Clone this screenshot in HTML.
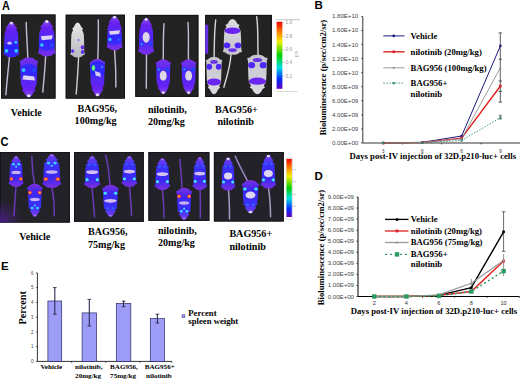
<!DOCTYPE html><html><head><meta charset="utf-8"><style>
html,body{margin:0;padding:0;background:#fff;width:520px;height:380px;overflow:hidden}
svg{display:block}
text{font-family:"Liberation Serif",serif;font-weight:bold;fill:#000}
.s{font-family:"Liberation Sans",sans-serif;font-weight:normal}
.L{font-family:"Liberation Sans",sans-serif;font-weight:bold;font-size:11.5px}
</style></head><body>
<svg width="520" height="380" viewBox="0 0 520 380">
<defs>
<linearGradient id="gA" x1="0" y1="0" x2="0" y2="1"><stop offset="0" stop-color="#8a50f0"/><stop offset="0.2" stop-color="#6a22f2"/><stop offset="0.6" stop-color="#4a28f6"/><stop offset="1" stop-color="#7a30e8"/></linearGradient>
<linearGradient id="gW" x1="0" y1="0" x2="0" y2="1"><stop offset="0" stop-color="#e8e8e8"/><stop offset="1" stop-color="#b8b8c0"/></linearGradient>
<linearGradient id="gAW" x1="0" y1="0" x2="0" y2="1"><stop offset="0" stop-color="#dcdae0"/><stop offset="1" stop-color="#c4c2cc"/></linearGradient>
<linearGradient id="gC" x1="0" y1="0" x2="0" y2="1"><stop offset="0" stop-color="#7a40f0"/><stop offset="0.3" stop-color="#3a30f8"/><stop offset="0.7" stop-color="#3a28f0"/><stop offset="1" stop-color="#7a30e0"/></linearGradient>
<linearGradient id="cbar" x1="0" y1="0" x2="0" y2="1"><stop offset="0" stop-color="#f00000"/><stop offset="0.15" stop-color="#ff8000"/><stop offset="0.3" stop-color="#f0f000"/><stop offset="0.5" stop-color="#00d000"/><stop offset="0.68" stop-color="#00e0e0"/><stop offset="0.85" stop-color="#0030ff"/><stop offset="1" stop-color="#6000c0"/></linearGradient>
<filter id="soft" x="-10%" y="-10%" width="120%" height="120%"><feGaussianBlur stdDeviation="0.4"/></filter>
<radialGradient id="glowC" cx="0" cy="222" r="22" gradientUnits="userSpaceOnUse"><stop offset="0" stop-color="#4a1c8a" stop-opacity="0.9"/><stop offset="1" stop-color="#4a1c8a" stop-opacity="0"/></radialGradient>
</defs>
<text class="L" transform="translate(1.9,9.5) scale(0.9,1)" style="font-size:12.1px">A</text>
<text class="L" x="314.5" y="9">B</text>
<text class="L" transform="translate(0.5,145.7) scale(0.88,1)" style="font-size:12.6px">C</text>
<text class="L" x="314.5" y="179.8">D</text>
<text class="L" x="1" y="270.3">E</text>
<rect x="1" y="14.5" width="54.5" height="84.1" fill="#232323"/>
<rect x="1.5" y="15.0" width="53.5" height="83.1" fill="none" stroke="#141414" stroke-width="1"/>
<rect x="65.7" y="14.7" width="59.3" height="83.9" fill="#232323"/>
<rect x="66.2" y="15.2" width="58.3" height="82.9" fill="none" stroke="#141414" stroke-width="1"/>
<rect x="135.3" y="14.9" width="63.1" height="82.0" fill="#232323"/>
<rect x="135.8" y="15.4" width="62.1" height="81.0" fill="none" stroke="#141414" stroke-width="1"/>
<rect x="205.2" y="14.9" width="66.7" height="82.1" fill="#232323"/>
<rect x="205.7" y="15.4" width="65.7" height="81.1" fill="none" stroke="#141414" stroke-width="1"/>
<g filter="url(#soft)">
<path d="M9.4,57.3 C8.2,70 6.8,82 5.9,94.7" stroke="#c8bcd8" stroke-width="1.4" fill="none" stroke-linecap="round"/>
<g transform="translate(4.20,21.50) scale(0.8938,0.9447)"><clipPath id="m1"><path d="M8,0 C10,0 11.5,2.5 12.5,5 L14.5,6.5 L13.5,8.5 C14.5,10 15,11 15.5,13 C16,20 16,27 16,31 L16.8,35 L14.5,35.5 C13,37.5 10.5,38 8,38 C5.5,38 3,37.5 1.5,35.5 L-0.8,35 L0,31 C0,27 0,20 0.5,13 C1,11 1.5,10 2.5,8.5 L1.5,6.5 L3.5,5 C4.5,2.5 6,0 8,0 Z"/></clipPath><path d="M8,0 C10,0 11.5,2.5 12.5,5 L14.5,6.5 L13.5,8.5 C14.5,10 15,11 15.5,13 C16,20 16,27 16,31 L16.8,35 L14.5,35.5 C13,37.5 10.5,38 8,38 C5.5,38 3,37.5 1.5,35.5 L-0.8,35 L0,31 C0,27 0,20 0.5,13 C1,11 1.5,10 2.5,8.5 L1.5,6.5 L3.5,5 C4.5,2.5 6,0 8,0 Z" fill="url(#gA)"/><g clip-path="url(#m1)"><ellipse cx="8" cy="30" rx="9" ry="8" fill="#2020ff" opacity="0.8"/><ellipse cx="6" cy="23" rx="2.5" ry="1.5" fill="#f0e0f0" opacity="0.85"/><circle cx="2.5" cy="31" r="2" fill="#30d0ff"/><circle cx="13.5" cy="31" r="2" fill="#30d0ff"/><circle cx="13" cy="22" r="1.6" fill="#30c0ff"/><circle cx="8" cy="1.5" r="1.6" fill="#e8e0f0"/></g></g>
<path d="M26.2,22.4 C26.5,35 27.5,48 27.8,58" stroke="#c8bcd8" stroke-width="1.4" fill="none" stroke-linecap="round"/>
<g transform="translate(20.40,97.40) scale(1.0500,-1.0500)"><clipPath id="m2"><path d="M8,0 C10,0 11.5,2.5 12.5,5 L14.5,6.5 L13.5,8.5 C14.5,10 15,11 15.5,13 C16,20 16,27 16,31 L16.8,35 L14.5,35.5 C13,37.5 10.5,38 8,38 C5.5,38 3,37.5 1.5,35.5 L-0.8,35 L0,31 C0,27 0,20 0.5,13 C1,11 1.5,10 2.5,8.5 L1.5,6.5 L3.5,5 C4.5,2.5 6,0 8,0 Z"/></clipPath><path d="M8,0 C10,0 11.5,2.5 12.5,5 L14.5,6.5 L13.5,8.5 C14.5,10 15,11 15.5,13 C16,20 16,27 16,31 L16.8,35 L14.5,35.5 C13,37.5 10.5,38 8,38 C5.5,38 3,37.5 1.5,35.5 L-0.8,35 L0,31 C0,27 0,20 0.5,13 C1,11 1.5,10 2.5,8.5 L1.5,6.5 L3.5,5 C4.5,2.5 6,0 8,0 Z" fill="url(#gA)"/><g clip-path="url(#m2)"><ellipse cx="8" cy="25" rx="9" ry="7" fill="#2828ff" opacity="0.7"/><path d="M2,17 L14,16 L13,20 L3,21 Z" fill="#f0e8f4" opacity="0.9"/><circle cx="3" cy="26" r="1.8" fill="#30c8ff"/><circle cx="13" cy="26" r="1.8" fill="#2850ff"/><circle cx="8" cy="1.5" r="1.6" fill="#e8e0f0"/></g></g>
<path d="M45.6,56.2 C45,70 43.6,82 42.8,92.1" stroke="#c8bcd8" stroke-width="1.4" fill="none" stroke-linecap="round"/>
<g transform="translate(38.90,20.00) scale(0.9875,0.9605)"><clipPath id="m3"><path d="M8,0 C10,0 11.5,2.5 12.5,5 L14.5,6.5 L13.5,8.5 C14.5,10 15,11 15.5,13 C16,20 16,27 16,31 L16.8,35 L14.5,35.5 C13,37.5 10.5,38 8,38 C5.5,38 3,37.5 1.5,35.5 L-0.8,35 L0,31 C0,27 0,20 0.5,13 C1,11 1.5,10 2.5,8.5 L1.5,6.5 L3.5,5 C4.5,2.5 6,0 8,0 Z"/></clipPath><path d="M8,0 C10,0 11.5,2.5 12.5,5 L14.5,6.5 L13.5,8.5 C14.5,10 15,11 15.5,13 C16,20 16,27 16,31 L16.8,35 L14.5,35.5 C13,37.5 10.5,38 8,38 C5.5,38 3,37.5 1.5,35.5 L-0.8,35 L0,31 C0,27 0,20 0.5,13 C1,11 1.5,10 2.5,8.5 L1.5,6.5 L3.5,5 C4.5,2.5 6,0 8,0 Z" fill="url(#gA)"/><g clip-path="url(#m3)"><ellipse cx="8" cy="25" rx="9" ry="7" fill="#2828ff" opacity="0.7"/><path d="M2,17 L14,16 L13,20 L3,21 Z" fill="#f0e8f4" opacity="0.9"/><circle cx="3" cy="26" r="1.8" fill="#30c8ff"/><circle cx="13" cy="26" r="1.8" fill="#2850ff"/><circle cx="8" cy="1.5" r="1.6" fill="#e8e0f0"/></g></g>
<path d="M78.6,57 C78,70 77,84 76.2,94" stroke="#d0d0d0" stroke-width="1.4" fill="none" stroke-linecap="round"/>
<g transform="translate(71.00,22.50) scale(0.8250,0.9211)"><clipPath id="m4"><path d="M8,0 C10,0 11.5,2.5 12.5,5 L14.5,6.5 L13.5,8.5 C14.5,10 15,11 15.5,13 C16,20 16,27 16,31 L16.8,35 L14.5,35.5 C13,37.5 10.5,38 8,38 C5.5,38 3,37.5 1.5,35.5 L-0.8,35 L0,31 C0,27 0,20 0.5,13 C1,11 1.5,10 2.5,8.5 L1.5,6.5 L3.5,5 C4.5,2.5 6,0 8,0 Z"/></clipPath><path d="M8,0 C10,0 11.5,2.5 12.5,5 L14.5,6.5 L13.5,8.5 C14.5,10 15,11 15.5,13 C16,20 16,27 16,31 L16.8,35 L14.5,35.5 C13,37.5 10.5,38 8,38 C5.5,38 3,37.5 1.5,35.5 L-0.8,35 L0,31 C0,27 0,20 0.5,13 C1,11 1.5,10 2.5,8.5 L1.5,6.5 L3.5,5 C4.5,2.5 6,0 8,0 Z" fill="url(#gW)"/><g clip-path="url(#m4)"><circle cx="14" cy="27" r="2.3" fill="#6a30e8"/><circle cx="14" cy="32" r="2.2" fill="#5a30f0"/><circle cx="2" cy="31" r="2" fill="#6a30e8"/><circle cx="9" cy="19" r="1" fill="#8050d0"/></g></g>
<path d="M98.3,20 C98.6,35 98.2,48 97.8,59.5" stroke="#c8bcd8" stroke-width="1.4" fill="none" stroke-linecap="round"/>
<g transform="translate(90.40,96.40) scale(0.8875,-0.9816)"><clipPath id="m5"><path d="M8,0 C10,0 11.5,2.5 12.5,5 L14.5,6.5 L13.5,8.5 C14.5,10 15,11 15.5,13 C16,20 16,27 16,31 L16.8,35 L14.5,35.5 C13,37.5 10.5,38 8,38 C5.5,38 3,37.5 1.5,35.5 L-0.8,35 L0,31 C0,27 0,20 0.5,13 C1,11 1.5,10 2.5,8.5 L1.5,6.5 L3.5,5 C4.5,2.5 6,0 8,0 Z"/></clipPath><path d="M8,0 C10,0 11.5,2.5 12.5,5 L14.5,6.5 L13.5,8.5 C14.5,10 15,11 15.5,13 C16,20 16,27 16,31 L16.8,35 L14.5,35.5 C13,37.5 10.5,38 8,38 C5.5,38 3,37.5 1.5,35.5 L-0.8,35 L0,31 C0,27 0,20 0.5,13 C1,11 1.5,10 2.5,8.5 L1.5,6.5 L3.5,5 C4.5,2.5 6,0 8,0 Z" fill="url(#gA)"/><g clip-path="url(#m5)"><ellipse cx="8" cy="28" rx="9" ry="8" fill="#2424ff" opacity="0.8"/><ellipse cx="3.5" cy="29" rx="2" ry="3" fill="#30e070"/><ellipse cx="3.5" cy="29" rx="1" ry="1.6" fill="#a0ffa0"/><path d="M5,26 L11,24 L12,20 L6,21 Z" fill="#e8e0f0" opacity="0.9"/><circle cx="13" cy="30" r="1.6" fill="#4070ff"/><circle cx="8" cy="1.5" r="1.8" fill="#e8e0f0"/></g></g>
<path d="M114.6,50 C115.5,62 116,75 115.9,87" stroke="#c8bcd8" stroke-width="1.4" fill="none" stroke-linecap="round"/>
<g transform="translate(107.30,15.80) scale(0.9062,0.9079)"><clipPath id="m6"><path d="M8,0 C10,0 11.5,2.5 12.5,5 L14.5,6.5 L13.5,8.5 C14.5,10 15,11 15.5,13 C16,20 16,27 16,31 L16.8,35 L14.5,35.5 C13,37.5 10.5,38 8,38 C5.5,38 3,37.5 1.5,35.5 L-0.8,35 L0,31 C0,27 0,20 0.5,13 C1,11 1.5,10 2.5,8.5 L1.5,6.5 L3.5,5 C4.5,2.5 6,0 8,0 Z"/></clipPath><path d="M8,0 C10,0 11.5,2.5 12.5,5 L14.5,6.5 L13.5,8.5 C14.5,10 15,11 15.5,13 C16,20 16,27 16,31 L16.8,35 L14.5,35.5 C13,37.5 10.5,38 8,38 C5.5,38 3,37.5 1.5,35.5 L-0.8,35 L0,31 C0,27 0,20 0.5,13 C1,11 1.5,10 2.5,8.5 L1.5,6.5 L3.5,5 C4.5,2.5 6,0 8,0 Z" fill="url(#gA)"/><g clip-path="url(#m6)"><ellipse cx="8" cy="25" rx="9" ry="7" fill="#2828ff" opacity="0.7"/><path d="M2,17 L14,16 L13,20 L3,21 Z" fill="#f0e8f4" opacity="0.9"/><circle cx="3" cy="26" r="1.8" fill="#30c8ff"/><circle cx="13" cy="26" r="1.8" fill="#2850ff"/><circle cx="8" cy="1.5" r="1.6" fill="#e8e0f0"/></g></g>
<path d="M146.5,54.5 C146.5,68 146.3,80 146.3,88.3" stroke="#c8bcd8" stroke-width="1.4" fill="none" stroke-linecap="round"/>
<g transform="translate(139.00,17.80) scale(0.8938,0.9737)"><clipPath id="m7"><path d="M8,0 C10,0 11.5,2.5 12.5,5 L14.5,6.5 L13.5,8.5 C14.5,10 15,11 15.5,13 C16,20 16,27 16,31 L16.8,35 L14.5,35.5 C13,37.5 10.5,38 8,38 C5.5,38 3,37.5 1.5,35.5 L-0.8,35 L0,31 C0,27 0,20 0.5,13 C1,11 1.5,10 2.5,8.5 L1.5,6.5 L3.5,5 C4.5,2.5 6,0 8,0 Z"/></clipPath><path d="M8,0 C10,0 11.5,2.5 12.5,5 L14.5,6.5 L13.5,8.5 C14.5,10 15,11 15.5,13 C16,20 16,27 16,31 L16.8,35 L14.5,35.5 C13,37.5 10.5,38 8,38 C5.5,38 3,37.5 1.5,35.5 L-0.8,35 L0,31 C0,27 0,20 0.5,13 C1,11 1.5,10 2.5,8.5 L1.5,6.5 L3.5,5 C4.5,2.5 6,0 8,0 Z" fill="url(#gA)"/><g clip-path="url(#m7)"><ellipse cx="8" cy="20" rx="4" ry="5.5" fill="#dcd6e4"/><circle cx="3" cy="27" r="2.2" fill="#2040ff"/><circle cx="13" cy="27" r="2.2" fill="#2040ff"/><circle cx="3" cy="27" r="0.9" fill="#40c0ff"/><circle cx="8" cy="1.5" r="1.6" fill="#e8e0f0"/></g></g>
<path d="M164,23.6 C163,38 163.5,50 163.2,59.6" stroke="#c8bcd8" stroke-width="1.4" fill="none" stroke-linecap="round"/>
<g transform="translate(156.30,94.00) scale(0.8687,-0.9105)"><clipPath id="m8"><path d="M8,0 C10,0 11.5,2.5 12.5,5 L14.5,6.5 L13.5,8.5 C14.5,10 15,11 15.5,13 C16,20 16,27 16,31 L16.8,35 L14.5,35.5 C13,37.5 10.5,38 8,38 C5.5,38 3,37.5 1.5,35.5 L-0.8,35 L0,31 C0,27 0,20 0.5,13 C1,11 1.5,10 2.5,8.5 L1.5,6.5 L3.5,5 C4.5,2.5 6,0 8,0 Z"/></clipPath><path d="M8,0 C10,0 11.5,2.5 12.5,5 L14.5,6.5 L13.5,8.5 C14.5,10 15,11 15.5,13 C16,20 16,27 16,31 L16.8,35 L14.5,35.5 C13,37.5 10.5,38 8,38 C5.5,38 3,37.5 1.5,35.5 L-0.8,35 L0,31 C0,27 0,20 0.5,13 C1,11 1.5,10 2.5,8.5 L1.5,6.5 L3.5,5 C4.5,2.5 6,0 8,0 Z" fill="url(#gA)"/><g clip-path="url(#m8)"><ellipse cx="8" cy="20" rx="4" ry="5.5" fill="#dcd6e4"/><circle cx="3" cy="27" r="2.2" fill="#2040ff"/><circle cx="13" cy="27" r="2.2" fill="#2040ff"/><circle cx="3" cy="27" r="0.9" fill="#40c0ff"/><circle cx="8" cy="1.5" r="1.6" fill="#e8e0f0"/></g></g>
<path d="M188,22.4 C189,38 188,50 188.5,59.6" stroke="#c8bcd8" stroke-width="1.4" fill="none" stroke-linecap="round"/>
<g transform="translate(181.70,94.00) scale(0.8688,-0.9105)"><clipPath id="m9"><path d="M8,0 C10,0 11.5,2.5 12.5,5 L14.5,6.5 L13.5,8.5 C14.5,10 15,11 15.5,13 C16,20 16,27 16,31 L16.8,35 L14.5,35.5 C13,37.5 10.5,38 8,38 C5.5,38 3,37.5 1.5,35.5 L-0.8,35 L0,31 C0,27 0,20 0.5,13 C1,11 1.5,10 2.5,8.5 L1.5,6.5 L3.5,5 C4.5,2.5 6,0 8,0 Z"/></clipPath><path d="M8,0 C10,0 11.5,2.5 12.5,5 L14.5,6.5 L13.5,8.5 C14.5,10 15,11 15.5,13 C16,20 16,27 16,31 L16.8,35 L14.5,35.5 C13,37.5 10.5,38 8,38 C5.5,38 3,37.5 1.5,35.5 L-0.8,35 L0,31 C0,27 0,20 0.5,13 C1,11 1.5,10 2.5,8.5 L1.5,6.5 L3.5,5 C4.5,2.5 6,0 8,0 Z" fill="url(#gA)"/><g clip-path="url(#m9)"><ellipse cx="8" cy="20" rx="4" ry="5.5" fill="#dcd6e4"/><circle cx="3" cy="27" r="2.2" fill="#2040ff"/><circle cx="13" cy="27" r="2.2" fill="#2040ff"/><circle cx="3" cy="27" r="0.9" fill="#40c0ff"/><circle cx="8" cy="1.5" r="1.6" fill="#e8e0f0"/></g></g>
<rect x="205.2" y="24.7" width="3" height="29" fill="#6a30e8"/>
<path d="M215.7,20 C214,35 214.5,48 214,57.2" stroke="#d8d8d8" stroke-width="1.4" fill="none" stroke-linecap="round"/>
<g transform="translate(206.50,94.20) scale(0.9375,-0.9789)"><clipPath id="m10"><path d="M8,0 C10,0 11.5,2.5 12.5,5 L14.5,6.5 L13.5,8.5 C14.5,10 15,11 15.5,13 C16,20 16,27 16,31 L16.8,35 L14.5,35.5 C13,37.5 10.5,38 8,38 C5.5,38 3,37.5 1.5,35.5 L-0.8,35 L0,31 C0,27 0,20 0.5,13 C1,11 1.5,10 2.5,8.5 L1.5,6.5 L3.5,5 C4.5,2.5 6,0 8,0 Z"/></clipPath><path d="M8,0 C10,0 11.5,2.5 12.5,5 L14.5,6.5 L13.5,8.5 C14.5,10 15,11 15.5,13 C16,20 16,27 16,31 L16.8,35 L14.5,35.5 C13,37.5 10.5,38 8,38 C5.5,38 3,37.5 1.5,35.5 L-0.8,35 L0,31 C0,27 0,20 0.5,13 C1,11 1.5,10 2.5,8.5 L1.5,6.5 L3.5,5 C4.5,2.5 6,0 8,0 Z" fill="url(#gAW)"/><g clip-path="url(#m10)"><ellipse cx="8" cy="12.5" rx="7.5" ry="3.5" fill="#6a28f0"/><circle cx="3" cy="28" r="3" fill="#5028f8"/><circle cx="13" cy="28" r="3" fill="#5028f8"/><ellipse cx="8" cy="33" rx="4" ry="2" fill="#6a30e8"/></g></g>
<path d="M231,54.5 C230,68 226,80 223.8,87.2" stroke="#d8d8d8" stroke-width="1.4" fill="none" stroke-linecap="round"/>
<g transform="translate(223.80,19.00) scale(1.0875,0.9421)"><clipPath id="m11"><path d="M8,0 C10,0 11.5,2.5 12.5,5 L14.5,6.5 L13.5,8.5 C14.5,10 15,11 15.5,13 C16,20 16,27 16,31 L16.8,35 L14.5,35.5 C13,37.5 10.5,38 8,38 C5.5,38 3,37.5 1.5,35.5 L-0.8,35 L0,31 C0,27 0,20 0.5,13 C1,11 1.5,10 2.5,8.5 L1.5,6.5 L3.5,5 C4.5,2.5 6,0 8,0 Z"/></clipPath><path d="M8,0 C10,0 11.5,2.5 12.5,5 L14.5,6.5 L13.5,8.5 C14.5,10 15,11 15.5,13 C16,20 16,27 16,31 L16.8,35 L14.5,35.5 C13,37.5 10.5,38 8,38 C5.5,38 3,37.5 1.5,35.5 L-0.8,35 L0,31 C0,27 0,20 0.5,13 C1,11 1.5,10 2.5,8.5 L1.5,6.5 L3.5,5 C4.5,2.5 6,0 8,0 Z" fill="url(#gAW)"/><g clip-path="url(#m11)"><ellipse cx="8" cy="12.5" rx="7.5" ry="3.5" fill="#6a28f0"/><circle cx="3" cy="28" r="3" fill="#5028f8"/><circle cx="13" cy="28" r="3" fill="#5028f8"/><ellipse cx="8" cy="33" rx="4" ry="2" fill="#6a30e8"/></g></g>
<path d="M256.7,16.6 C258.5,30 257.5,45 258.1,55" stroke="#d8d8d8" stroke-width="1.4" fill="none" stroke-linecap="round"/>
<g transform="translate(248.10,94.20) scale(1.1625,-1.0368)"><clipPath id="m12"><path d="M8,0 C10,0 11.5,2.5 12.5,5 L14.5,6.5 L13.5,8.5 C14.5,10 15,11 15.5,13 C16,20 16,27 16,31 L16.8,35 L14.5,35.5 C13,37.5 10.5,38 8,38 C5.5,38 3,37.5 1.5,35.5 L-0.8,35 L0,31 C0,27 0,20 0.5,13 C1,11 1.5,10 2.5,8.5 L1.5,6.5 L3.5,5 C4.5,2.5 6,0 8,0 Z"/></clipPath><path d="M8,0 C10,0 11.5,2.5 12.5,5 L14.5,6.5 L13.5,8.5 C14.5,10 15,11 15.5,13 C16,20 16,27 16,31 L16.8,35 L14.5,35.5 C13,37.5 10.5,38 8,38 C5.5,38 3,37.5 1.5,35.5 L-0.8,35 L0,31 C0,27 0,20 0.5,13 C1,11 1.5,10 2.5,8.5 L1.5,6.5 L3.5,5 C4.5,2.5 6,0 8,0 Z" fill="url(#gAW)"/><g clip-path="url(#m12)"><ellipse cx="8" cy="12.5" rx="7.5" ry="3.5" fill="#6a28f0"/><circle cx="3" cy="28" r="3" fill="#5028f8"/><circle cx="13" cy="28" r="3" fill="#5028f8"/><ellipse cx="8" cy="33" rx="4" ry="2" fill="#6a30e8"/></g></g>
</g>
<rect x="276.6" y="21.8" width="5.8" height="67" fill="url(#cbar)"/>
<line x1="276" y1="19.7" x2="300" y2="19.7" stroke="#aaa" stroke-width="0.7"/>
<line x1="276" y1="91.5" x2="297.5" y2="91.5" stroke="#bbb" stroke-width="0.6"/>
<line x1="282.4" y1="22.4" x2="284.4" y2="22.4" stroke="#999" stroke-width="0.5"/>
<text class="s" x="285.6" y="24.1" style="font-size:4.8px;fill:#999">1.0</text>
<line x1="282.4" y1="36.6" x2="284.4" y2="36.6" stroke="#999" stroke-width="0.5"/>
<text class="s" x="285.6" y="38.3" style="font-size:4.8px;fill:#999">0.8</text>
<line x1="282.4" y1="49.7" x2="284.4" y2="49.7" stroke="#999" stroke-width="0.5"/>
<text class="s" x="285.6" y="51.4" style="font-size:4.8px;fill:#999">0.6</text>
<line x1="282.4" y1="62.4" x2="284.4" y2="62.4" stroke="#999" stroke-width="0.5"/>
<text class="s" x="285.6" y="64.1" style="font-size:4.8px;fill:#999">0.4</text>
<line x1="282.4" y1="76" x2="284.4" y2="76" stroke="#999" stroke-width="0.5"/>
<text class="s" x="285.6" y="77.7" style="font-size:4.8px;fill:#999">0.2</text>
<text class="s" transform="translate(297.5,57) rotate(-90)" style="font-size:4.5px;fill:#999">p/s</text>
<g style="font-size:10.1px">
<text x="10.8" y="116.3">Vehicle</text>
<text x="77.5" y="111.8">BAG956,</text><text x="74.6" y="124">100mg/kg</text>
<text x="147.9" y="113">nilotinib,</text><text x="147.9" y="125.4">20mg/kg</text>
<text x="215" y="113">BAG956+</text><text x="217.4" y="125.4">nilotinib</text>
</g>
<rect x="0" y="152" width="69.9" height="70.6" fill="#232228"/>
<rect x="0.5" y="152.5" width="68.9" height="69.6" fill="none" stroke="#16141a" stroke-width="1"/>
<rect x="74" y="152" width="69.8" height="69.8" fill="#232228"/>
<rect x="74.5" y="152.5" width="68.8" height="68.8" fill="none" stroke="#16141a" stroke-width="1"/>
<rect x="148.4" y="152" width="61.0" height="68.9" fill="#232228"/>
<rect x="148.9" y="152.5" width="60.0" height="67.9" fill="none" stroke="#16141a" stroke-width="1"/>
<rect x="213.9" y="152" width="69.9" height="69.5" fill="#232228"/>
<rect x="214.4" y="152.5" width="68.9" height="68.5" fill="none" stroke="#16141a" stroke-width="1"/>
<rect x="0" y="195" width="22" height="27.6" fill="url(#glowC)"/>
<g filter="url(#soft)">
<path d="M16,187 C15,198 14.5,207 14,215.6" stroke="#6a3ab8" stroke-width="1.5" fill="none" stroke-linecap="round"/>
<g transform="translate(9.20,156.20) scale(0.8625,0.8105)"><clipPath id="m13"><path d="M8,0 C10,0 11.2,2 11.8,4.5 L13.6,6 L12.6,8.2 C13.5,9 14.5,9.5 15.2,10.5 L14.6,12 C15.4,16 15.6,24 15.6,30 L16.8,33.8 L14.6,35 C13.2,37.4 10.6,38 8,38 C5.4,38 2.8,37.4 1.4,35 L-0.8,33.8 L0.4,30 C0.4,24 0.6,16 1.4,12 L0.8,10.5 C1.5,9.5 2.5,9 3.4,8.2 L2.4,6 L4.2,4.5 C4.8,2 6,0 8,0 Z"/></clipPath><path d="M8,0 C10,0 11.2,2 11.8,4.5 L13.6,6 L12.6,8.2 C13.5,9 14.5,9.5 15.2,10.5 L14.6,12 C15.4,16 15.6,24 15.6,30 L16.8,33.8 L14.6,35 C13.2,37.4 10.6,38 8,38 C5.4,38 2.8,37.4 1.4,35 L-0.8,33.8 L0.4,30 C0.4,24 0.6,16 1.4,12 L0.8,10.5 C1.5,9.5 2.5,9 3.4,8.2 L2.4,6 L4.2,4.5 C4.8,2 6,0 8,0 Z" fill="url(#gC)"/><g clip-path="url(#m13)"><ellipse cx="8" cy="20" rx="5.5" ry="2" fill="#e0c8f8" opacity="0.85"/><circle cx="2.5" cy="28" r="2.2" fill="#ff3030"/><circle cx="2.5" cy="28" r="1" fill="#ffe040"/><circle cx="13.5" cy="28" r="2.2" fill="#ff3030"/><circle cx="13.5" cy="28" r="1" fill="#ffe040"/><circle cx="5" cy="10" r="1.6" fill="#40d0ff"/><circle cx="11" cy="10" r="1.6" fill="#40d0ff"/><circle cx="8" cy="13" r="1.2" fill="#40d0ff"/><circle cx="8" cy="1" r="1.5" fill="#a070f0"/></g></g>
<path d="M31.8,156.2 C32,166 33,176 34.5,184" stroke="#6a3ab8" stroke-width="1.5" fill="none" stroke-linecap="round"/>
<g transform="translate(27.70,216.70) scale(0.8938,-0.8632)"><clipPath id="m14"><path d="M8,0 C10,0 11.2,2 11.8,4.5 L13.6,6 L12.6,8.2 C13.5,9 14.5,9.5 15.2,10.5 L14.6,12 C15.4,16 15.6,24 15.6,30 L16.8,33.8 L14.6,35 C13.2,37.4 10.6,38 8,38 C5.4,38 2.8,37.4 1.4,35 L-0.8,33.8 L0.4,30 C0.4,24 0.6,16 1.4,12 L0.8,10.5 C1.5,9.5 2.5,9 3.4,8.2 L2.4,6 L4.2,4.5 C4.8,2 6,0 8,0 Z"/></clipPath><path d="M8,0 C10,0 11.2,2 11.8,4.5 L13.6,6 L12.6,8.2 C13.5,9 14.5,9.5 15.2,10.5 L14.6,12 C15.4,16 15.6,24 15.6,30 L16.8,33.8 L14.6,35 C13.2,37.4 10.6,38 8,38 C5.4,38 2.8,37.4 1.4,35 L-0.8,33.8 L0.4,30 C0.4,24 0.6,16 1.4,12 L0.8,10.5 C1.5,9.5 2.5,9 3.4,8.2 L2.4,6 L4.2,4.5 C4.8,2 6,0 8,0 Z" fill="url(#gC)"/><g clip-path="url(#m14)"><ellipse cx="8" cy="20" rx="5.5" ry="2" fill="#e0c8f8" opacity="0.85"/><circle cx="2.5" cy="28" r="2.2" fill="#ff3030"/><circle cx="2.5" cy="28" r="1" fill="#ffe040"/><circle cx="13.5" cy="28" r="2.2" fill="#ff3030"/><circle cx="13.5" cy="28" r="1" fill="#ffe040"/><circle cx="5" cy="10" r="1.6" fill="#40d0ff"/><circle cx="11" cy="10" r="1.6" fill="#40d0ff"/><circle cx="8" cy="13" r="1.2" fill="#40d0ff"/><circle cx="8" cy="1" r="1.5" fill="#a070f0"/></g></g>
<path d="M52,188 C54,198 54.5,207 54.3,215.7" stroke="#6a3ab8" stroke-width="1.5" fill="none" stroke-linecap="round"/>
<g transform="translate(43.00,154.20) scale(1.0938,0.8895)"><clipPath id="m15"><path d="M8,0 C10,0 11.2,2 11.8,4.5 L13.6,6 L12.6,8.2 C13.5,9 14.5,9.5 15.2,10.5 L14.6,12 C15.4,16 15.6,24 15.6,30 L16.8,33.8 L14.6,35 C13.2,37.4 10.6,38 8,38 C5.4,38 2.8,37.4 1.4,35 L-0.8,33.8 L0.4,30 C0.4,24 0.6,16 1.4,12 L0.8,10.5 C1.5,9.5 2.5,9 3.4,8.2 L2.4,6 L4.2,4.5 C4.8,2 6,0 8,0 Z"/></clipPath><path d="M8,0 C10,0 11.2,2 11.8,4.5 L13.6,6 L12.6,8.2 C13.5,9 14.5,9.5 15.2,10.5 L14.6,12 C15.4,16 15.6,24 15.6,30 L16.8,33.8 L14.6,35 C13.2,37.4 10.6,38 8,38 C5.4,38 2.8,37.4 1.4,35 L-0.8,33.8 L0.4,30 C0.4,24 0.6,16 1.4,12 L0.8,10.5 C1.5,9.5 2.5,9 3.4,8.2 L2.4,6 L4.2,4.5 C4.8,2 6,0 8,0 Z" fill="url(#gC)"/><g clip-path="url(#m15)"><ellipse cx="8" cy="20" rx="5.5" ry="2" fill="#e0c8f8" opacity="0.85"/><circle cx="2.5" cy="28" r="2.2" fill="#ff3030"/><circle cx="2.5" cy="28" r="1" fill="#ffe040"/><circle cx="13.5" cy="28" r="2.2" fill="#ff3030"/><circle cx="13.5" cy="28" r="1" fill="#ffe040"/><circle cx="5" cy="10" r="1.6" fill="#40d0ff"/><circle cx="11" cy="10" r="1.6" fill="#40d0ff"/><circle cx="8" cy="13" r="1.2" fill="#40d0ff"/><circle cx="8" cy="1" r="1.5" fill="#a070f0"/></g></g>
<path d="M92,188 C93,198 94,207 94.5,216.7" stroke="#6a3ab8" stroke-width="1.5" fill="none" stroke-linecap="round"/>
<g transform="translate(84.70,156.20) scale(0.9375,0.8368)"><clipPath id="m16"><path d="M8,0 C10,0 11.2,2 11.8,4.5 L13.6,6 L12.6,8.2 C13.5,9 14.5,9.5 15.2,10.5 L14.6,12 C15.4,16 15.6,24 15.6,30 L16.8,33.8 L14.6,35 C13.2,37.4 10.6,38 8,38 C5.4,38 2.8,37.4 1.4,35 L-0.8,33.8 L0.4,30 C0.4,24 0.6,16 1.4,12 L0.8,10.5 C1.5,9.5 2.5,9 3.4,8.2 L2.4,6 L4.2,4.5 C4.8,2 6,0 8,0 Z"/></clipPath><path d="M8,0 C10,0 11.2,2 11.8,4.5 L13.6,6 L12.6,8.2 C13.5,9 14.5,9.5 15.2,10.5 L14.6,12 C15.4,16 15.6,24 15.6,30 L16.8,33.8 L14.6,35 C13.2,37.4 10.6,38 8,38 C5.4,38 2.8,37.4 1.4,35 L-0.8,33.8 L0.4,30 C0.4,24 0.6,16 1.4,12 L0.8,10.5 C1.5,9.5 2.5,9 3.4,8.2 L2.4,6 L4.2,4.5 C4.8,2 6,0 8,0 Z" fill="url(#gC)"/><g clip-path="url(#m16)"><ellipse cx="8" cy="19" rx="6.5" ry="2.2" fill="#e8d0f4" opacity="0.9"/><circle cx="2.5" cy="28" r="1.8" fill="#40e0ff"/><circle cx="13.5" cy="28" r="1.8" fill="#40e0ff"/><circle cx="5" cy="10" r="1.4" fill="#3060ff"/><circle cx="11" cy="10" r="1.4" fill="#3060ff"/><circle cx="8" cy="1" r="1.5" fill="#a070f0"/></g></g>
<path d="M105.8,155.2 C108,165 109.5,175 110,185" stroke="#6a3ab8" stroke-width="1.5" fill="none" stroke-linecap="round"/>
<g transform="translate(102.80,216.70) scale(0.9562,-0.8368)"><clipPath id="m17"><path d="M8,0 C10,0 11.2,2 11.8,4.5 L13.6,6 L12.6,8.2 C13.5,9 14.5,9.5 15.2,10.5 L14.6,12 C15.4,16 15.6,24 15.6,30 L16.8,33.8 L14.6,35 C13.2,37.4 10.6,38 8,38 C5.4,38 2.8,37.4 1.4,35 L-0.8,33.8 L0.4,30 C0.4,24 0.6,16 1.4,12 L0.8,10.5 C1.5,9.5 2.5,9 3.4,8.2 L2.4,6 L4.2,4.5 C4.8,2 6,0 8,0 Z"/></clipPath><path d="M8,0 C10,0 11.2,2 11.8,4.5 L13.6,6 L12.6,8.2 C13.5,9 14.5,9.5 15.2,10.5 L14.6,12 C15.4,16 15.6,24 15.6,30 L16.8,33.8 L14.6,35 C13.2,37.4 10.6,38 8,38 C5.4,38 2.8,37.4 1.4,35 L-0.8,33.8 L0.4,30 C0.4,24 0.6,16 1.4,12 L0.8,10.5 C1.5,9.5 2.5,9 3.4,8.2 L2.4,6 L4.2,4.5 C4.8,2 6,0 8,0 Z" fill="url(#gC)"/><g clip-path="url(#m17)"><ellipse cx="8" cy="19" rx="6.5" ry="2.2" fill="#e8d0f4" opacity="0.9"/><circle cx="2.5" cy="28" r="1.8" fill="#40e0ff"/><circle cx="13.5" cy="28" r="1.8" fill="#40e0ff"/><circle cx="5" cy="10" r="1.4" fill="#3060ff"/><circle cx="11" cy="10" r="1.4" fill="#3060ff"/><circle cx="8" cy="1" r="1.5" fill="#a070f0"/></g></g>
<path d="M129.5,187 C130.5,198 131.5,207 131.5,215.7" stroke="#6a3ab8" stroke-width="1.5" fill="none" stroke-linecap="round"/>
<g transform="translate(122.20,156.20) scale(0.9000,0.8105)"><clipPath id="m18"><path d="M8,0 C10,0 11.2,2 11.8,4.5 L13.6,6 L12.6,8.2 C13.5,9 14.5,9.5 15.2,10.5 L14.6,12 C15.4,16 15.6,24 15.6,30 L16.8,33.8 L14.6,35 C13.2,37.4 10.6,38 8,38 C5.4,38 2.8,37.4 1.4,35 L-0.8,33.8 L0.4,30 C0.4,24 0.6,16 1.4,12 L0.8,10.5 C1.5,9.5 2.5,9 3.4,8.2 L2.4,6 L4.2,4.5 C4.8,2 6,0 8,0 Z"/></clipPath><path d="M8,0 C10,0 11.2,2 11.8,4.5 L13.6,6 L12.6,8.2 C13.5,9 14.5,9.5 15.2,10.5 L14.6,12 C15.4,16 15.6,24 15.6,30 L16.8,33.8 L14.6,35 C13.2,37.4 10.6,38 8,38 C5.4,38 2.8,37.4 1.4,35 L-0.8,33.8 L0.4,30 C0.4,24 0.6,16 1.4,12 L0.8,10.5 C1.5,9.5 2.5,9 3.4,8.2 L2.4,6 L4.2,4.5 C4.8,2 6,0 8,0 Z" fill="url(#gC)"/><g clip-path="url(#m18)"><ellipse cx="8" cy="19" rx="6.5" ry="2.2" fill="#e8d0f4" opacity="0.9"/><circle cx="2.5" cy="28" r="1.8" fill="#40e0ff"/><circle cx="13.5" cy="28" r="1.8" fill="#40e0ff"/><circle cx="5" cy="10" r="1.4" fill="#3060ff"/><circle cx="11" cy="10" r="1.4" fill="#3060ff"/><circle cx="8" cy="1" r="1.5" fill="#a070f0"/></g></g>
<path d="M162.5,190 C163.5,200 164,209 164,217.7" stroke="#6a3ab8" stroke-width="1.5" fill="none" stroke-linecap="round"/>
<g transform="translate(155.20,158.20) scale(0.9000,0.8368)"><clipPath id="m19"><path d="M8,0 C10,0 11.2,2 11.8,4.5 L13.6,6 L12.6,8.2 C13.5,9 14.5,9.5 15.2,10.5 L14.6,12 C15.4,16 15.6,24 15.6,30 L16.8,33.8 L14.6,35 C13.2,37.4 10.6,38 8,38 C5.4,38 2.8,37.4 1.4,35 L-0.8,33.8 L0.4,30 C0.4,24 0.6,16 1.4,12 L0.8,10.5 C1.5,9.5 2.5,9 3.4,8.2 L2.4,6 L4.2,4.5 C4.8,2 6,0 8,0 Z"/></clipPath><path d="M8,0 C10,0 11.2,2 11.8,4.5 L13.6,6 L12.6,8.2 C13.5,9 14.5,9.5 15.2,10.5 L14.6,12 C15.4,16 15.6,24 15.6,30 L16.8,33.8 L14.6,35 C13.2,37.4 10.6,38 8,38 C5.4,38 2.8,37.4 1.4,35 L-0.8,33.8 L0.4,30 C0.4,24 0.6,16 1.4,12 L0.8,10.5 C1.5,9.5 2.5,9 3.4,8.2 L2.4,6 L4.2,4.5 C4.8,2 6,0 8,0 Z" fill="url(#gC)"/><g clip-path="url(#m19)"><ellipse cx="8" cy="19" rx="6.5" ry="2.2" fill="#e8d0f4" opacity="0.9"/><circle cx="2.5" cy="28" r="1.8" fill="#40e0ff"/><circle cx="13.5" cy="28" r="1.8" fill="#40e0ff"/><circle cx="5" cy="10" r="1.4" fill="#3060ff"/><circle cx="11" cy="10" r="1.4" fill="#3060ff"/><circle cx="8" cy="1" r="1.5" fill="#a070f0"/></g></g>
<path d="M179.8,159.3 C181,170 181.5,180 182,188" stroke="#6a3ab8" stroke-width="1.5" fill="none" stroke-linecap="round"/>
<g transform="translate(176.70,219.70) scale(0.9250,-0.8342)"><clipPath id="m20"><path d="M8,0 C10,0 11.2,2 11.8,4.5 L13.6,6 L12.6,8.2 C13.5,9 14.5,9.5 15.2,10.5 L14.6,12 C15.4,16 15.6,24 15.6,30 L16.8,33.8 L14.6,35 C13.2,37.4 10.6,38 8,38 C5.4,38 2.8,37.4 1.4,35 L-0.8,33.8 L0.4,30 C0.4,24 0.6,16 1.4,12 L0.8,10.5 C1.5,9.5 2.5,9 3.4,8.2 L2.4,6 L4.2,4.5 C4.8,2 6,0 8,0 Z"/></clipPath><path d="M8,0 C10,0 11.2,2 11.8,4.5 L13.6,6 L12.6,8.2 C13.5,9 14.5,9.5 15.2,10.5 L14.6,12 C15.4,16 15.6,24 15.6,30 L16.8,33.8 L14.6,35 C13.2,37.4 10.6,38 8,38 C5.4,38 2.8,37.4 1.4,35 L-0.8,33.8 L0.4,30 C0.4,24 0.6,16 1.4,12 L0.8,10.5 C1.5,9.5 2.5,9 3.4,8.2 L2.4,6 L4.2,4.5 C4.8,2 6,0 8,0 Z" fill="url(#gC)"/><g clip-path="url(#m20)"><ellipse cx="8" cy="20" rx="5.5" ry="2" fill="#e0c8f8" opacity="0.85"/><circle cx="2.5" cy="28" r="2.2" fill="#ff3030"/><circle cx="2.5" cy="28" r="1" fill="#ffe040"/><circle cx="13.5" cy="28" r="2.2" fill="#ff3030"/><circle cx="13.5" cy="28" r="1" fill="#ffe040"/><circle cx="5" cy="10" r="1.6" fill="#40d0ff"/><circle cx="11" cy="10" r="1.6" fill="#40d0ff"/><circle cx="8" cy="13" r="1.2" fill="#40d0ff"/><circle cx="8" cy="1" r="1.5" fill="#a070f0"/></g></g>
<path d="M200,190 C200.5,200 200.5,209 200.3,217.7" stroke="#6a3ab8" stroke-width="1.5" fill="none" stroke-linecap="round"/>
<g transform="translate(193.10,157.20) scale(0.8375,0.8632)"><clipPath id="m21"><path d="M8,0 C10,0 11.2,2 11.8,4.5 L13.6,6 L12.6,8.2 C13.5,9 14.5,9.5 15.2,10.5 L14.6,12 C15.4,16 15.6,24 15.6,30 L16.8,33.8 L14.6,35 C13.2,37.4 10.6,38 8,38 C5.4,38 2.8,37.4 1.4,35 L-0.8,33.8 L0.4,30 C0.4,24 0.6,16 1.4,12 L0.8,10.5 C1.5,9.5 2.5,9 3.4,8.2 L2.4,6 L4.2,4.5 C4.8,2 6,0 8,0 Z"/></clipPath><path d="M8,0 C10,0 11.2,2 11.8,4.5 L13.6,6 L12.6,8.2 C13.5,9 14.5,9.5 15.2,10.5 L14.6,12 C15.4,16 15.6,24 15.6,30 L16.8,33.8 L14.6,35 C13.2,37.4 10.6,38 8,38 C5.4,38 2.8,37.4 1.4,35 L-0.8,33.8 L0.4,30 C0.4,24 0.6,16 1.4,12 L0.8,10.5 C1.5,9.5 2.5,9 3.4,8.2 L2.4,6 L4.2,4.5 C4.8,2 6,0 8,0 Z" fill="url(#gC)"/><g clip-path="url(#m21)"><ellipse cx="8" cy="19" rx="6.5" ry="2.2" fill="#e8d0f4" opacity="0.9"/><circle cx="2.5" cy="28" r="1.8" fill="#40e0ff"/><circle cx="13.5" cy="28" r="1.8" fill="#40e0ff"/><circle cx="5" cy="10" r="1.4" fill="#3060ff"/><circle cx="11" cy="10" r="1.4" fill="#3060ff"/><circle cx="8" cy="1" r="1.5" fill="#a070f0"/></g></g>
<path d="M228.5,190 C229.5,201 229.5,210 229.5,218.9" stroke="#a89cc0" stroke-width="1.5" fill="none" stroke-linecap="round"/>
<g transform="translate(221.50,157.60) scale(0.8313,0.8711)"><clipPath id="m22"><path d="M8,0 C10,0 11.2,2 11.8,4.5 L13.6,6 L12.6,8.2 C13.5,9 14.5,9.5 15.2,10.5 L14.6,12 C15.4,16 15.6,24 15.6,30 L16.8,33.8 L14.6,35 C13.2,37.4 10.6,38 8,38 C5.4,38 2.8,37.4 1.4,35 L-0.8,33.8 L0.4,30 C0.4,24 0.6,16 1.4,12 L0.8,10.5 C1.5,9.5 2.5,9 3.4,8.2 L2.4,6 L4.2,4.5 C4.8,2 6,0 8,0 Z"/></clipPath><path d="M8,0 C10,0 11.2,2 11.8,4.5 L13.6,6 L12.6,8.2 C13.5,9 14.5,9.5 15.2,10.5 L14.6,12 C15.4,16 15.6,24 15.6,30 L16.8,33.8 L14.6,35 C13.2,37.4 10.6,38 8,38 C5.4,38 2.8,37.4 1.4,35 L-0.8,33.8 L0.4,30 C0.4,24 0.6,16 1.4,12 L0.8,10.5 C1.5,9.5 2.5,9 3.4,8.2 L2.4,6 L4.2,4.5 C4.8,2 6,0 8,0 Z" fill="url(#gC)"/><g clip-path="url(#m22)"><ellipse cx="8" cy="21" rx="5" ry="4" fill="#e8e0f0" opacity="0.95"/><circle cx="2.5" cy="28" r="1.8" fill="#40e0ff"/><circle cx="13.5" cy="28" r="1.8" fill="#40e0ff"/><circle cx="5" cy="10" r="1.4" fill="#3060ff"/><circle cx="11" cy="10" r="1.4" fill="#3060ff"/><circle cx="8" cy="1" r="2" fill="#e0d8f0"/></g></g>
<path d="M235.2,156.2 C239,165 244,174 248,182" stroke="#9a88c8" stroke-width="1.5" fill="none" stroke-linecap="round"/>
<g transform="translate(242.40,213.40) scale(1.0062,-0.8711)"><clipPath id="m23"><path d="M8,0 C10,0 11.2,2 11.8,4.5 L13.6,6 L12.6,8.2 C13.5,9 14.5,9.5 15.2,10.5 L14.6,12 C15.4,16 15.6,24 15.6,30 L16.8,33.8 L14.6,35 C13.2,37.4 10.6,38 8,38 C5.4,38 2.8,37.4 1.4,35 L-0.8,33.8 L0.4,30 C0.4,24 0.6,16 1.4,12 L0.8,10.5 C1.5,9.5 2.5,9 3.4,8.2 L2.4,6 L4.2,4.5 C4.8,2 6,0 8,0 Z"/></clipPath><path d="M8,0 C10,0 11.2,2 11.8,4.5 L13.6,6 L12.6,8.2 C13.5,9 14.5,9.5 15.2,10.5 L14.6,12 C15.4,16 15.6,24 15.6,30 L16.8,33.8 L14.6,35 C13.2,37.4 10.6,38 8,38 C5.4,38 2.8,37.4 1.4,35 L-0.8,33.8 L0.4,30 C0.4,24 0.6,16 1.4,12 L0.8,10.5 C1.5,9.5 2.5,9 3.4,8.2 L2.4,6 L4.2,4.5 C4.8,2 6,0 8,0 Z" fill="url(#gC)"/><g clip-path="url(#m23)"><ellipse cx="8" cy="21" rx="5" ry="4" fill="#e8e0f0" opacity="0.95"/><circle cx="2.5" cy="28" r="1.8" fill="#40e0ff"/><circle cx="13.5" cy="28" r="1.8" fill="#40e0ff"/><circle cx="5" cy="10" r="1.4" fill="#3060ff"/><circle cx="11" cy="10" r="1.4" fill="#3060ff"/><circle cx="8" cy="1" r="2" fill="#e0d8f0"/></g></g>
<path d="M268.5,188 C270,198 270.5,208 270.6,216.8" stroke="#a89cc0" stroke-width="1.5" fill="none" stroke-linecap="round"/>
<g transform="translate(261.30,154.70) scale(0.8875,0.8974)"><clipPath id="m24"><path d="M8,0 C10,0 11.2,2 11.8,4.5 L13.6,6 L12.6,8.2 C13.5,9 14.5,9.5 15.2,10.5 L14.6,12 C15.4,16 15.6,24 15.6,30 L16.8,33.8 L14.6,35 C13.2,37.4 10.6,38 8,38 C5.4,38 2.8,37.4 1.4,35 L-0.8,33.8 L0.4,30 C0.4,24 0.6,16 1.4,12 L0.8,10.5 C1.5,9.5 2.5,9 3.4,8.2 L2.4,6 L4.2,4.5 C4.8,2 6,0 8,0 Z"/></clipPath><path d="M8,0 C10,0 11.2,2 11.8,4.5 L13.6,6 L12.6,8.2 C13.5,9 14.5,9.5 15.2,10.5 L14.6,12 C15.4,16 15.6,24 15.6,30 L16.8,33.8 L14.6,35 C13.2,37.4 10.6,38 8,38 C5.4,38 2.8,37.4 1.4,35 L-0.8,33.8 L0.4,30 C0.4,24 0.6,16 1.4,12 L0.8,10.5 C1.5,9.5 2.5,9 3.4,8.2 L2.4,6 L4.2,4.5 C4.8,2 6,0 8,0 Z" fill="url(#gC)"/><g clip-path="url(#m24)"><ellipse cx="8" cy="21" rx="5" ry="4" fill="#e8e0f0" opacity="0.95"/><circle cx="2.5" cy="28" r="1.8" fill="#40e0ff"/><circle cx="13.5" cy="28" r="1.8" fill="#40e0ff"/><circle cx="5" cy="10" r="1.4" fill="#3060ff"/><circle cx="11" cy="10" r="1.4" fill="#3060ff"/><circle cx="8" cy="1" r="2" fill="#e0d8f0"/></g></g>
</g>
<rect x="286.2" y="157.9" width="6.2" height="61.1" fill="none" stroke="#c8c4d0" stroke-width="0.6"/>
<rect x="286.5" y="158.9" width="5.3" height="58.1" fill="url(#cbar)"/>
<line x1="292.2" y1="169.7" x2="293.4" y2="169.7" stroke="#aaa" stroke-width="0.5"/>
<rect x="294.3" y="168.79999999999998" width="1.1" height="1.8" fill="#bbb"/>
<line x1="292.2" y1="181.6" x2="293.4" y2="181.6" stroke="#aaa" stroke-width="0.5"/>
<rect x="294.3" y="180.7" width="1.1" height="1.8" fill="#bbb"/>
<line x1="292.2" y1="194.4" x2="293.4" y2="194.4" stroke="#aaa" stroke-width="0.5"/>
<rect x="294.3" y="193.5" width="1.1" height="1.8" fill="#bbb"/>
<line x1="292.2" y1="206.2" x2="293.4" y2="206.2" stroke="#aaa" stroke-width="0.5"/>
<rect x="294.3" y="205.29999999999998" width="1.1" height="1.8" fill="#bbb"/>
<g style="font-size:10.1px">
<text x="19.3" y="239.7">Vehicle</text>
<text x="88" y="235.4">BAG956,</text><text x="88" y="248">75mg/kg</text>
<text x="157.9" y="234">nilotinib,</text><text x="157.9" y="245.5">20mg/kg</text>
<text x="229.4" y="236.8">BAG956+</text><text x="229.4" y="249.5">nilotinib</text>
</g>
<line x1="362.8" y1="16.4" x2="362.8" y2="143.0" stroke="#000" stroke-width="0.8"/>
<line x1="362.8" y1="143.0" x2="520" y2="143.0" stroke="#000" stroke-width="0.8"/>
<line x1="361.1" y1="143.00" x2="362.8" y2="143.00" stroke="#000" stroke-width="0.6"/>
<text class="s" x="358.2" y="145.00" style="font-size:6.1px;fill:#444" text-anchor="end">0.00E+00</text>
<line x1="361.1" y1="128.93" x2="362.8" y2="128.93" stroke="#000" stroke-width="0.6"/>
<text class="s" x="358.2" y="130.93" style="font-size:6.1px;fill:#444" text-anchor="end">2.00E+09</text>
<line x1="361.1" y1="114.87" x2="362.8" y2="114.87" stroke="#000" stroke-width="0.6"/>
<text class="s" x="358.2" y="116.87" style="font-size:6.1px;fill:#444" text-anchor="end">4.00E+09</text>
<line x1="361.1" y1="100.80" x2="362.8" y2="100.80" stroke="#000" stroke-width="0.6"/>
<text class="s" x="358.2" y="102.80" style="font-size:6.1px;fill:#444" text-anchor="end">6.00E+09</text>
<line x1="361.1" y1="86.73" x2="362.8" y2="86.73" stroke="#000" stroke-width="0.6"/>
<text class="s" x="358.2" y="88.73" style="font-size:6.1px;fill:#444" text-anchor="end">8.00E+09</text>
<line x1="361.1" y1="72.67" x2="362.8" y2="72.67" stroke="#000" stroke-width="0.6"/>
<text class="s" x="358.2" y="74.67" style="font-size:6.1px;fill:#444" text-anchor="end">1.00E+10</text>
<line x1="361.1" y1="58.60" x2="362.8" y2="58.60" stroke="#000" stroke-width="0.6"/>
<text class="s" x="358.2" y="60.60" style="font-size:6.1px;fill:#444" text-anchor="end">1.20E+10</text>
<line x1="361.1" y1="44.53" x2="362.8" y2="44.53" stroke="#000" stroke-width="0.6"/>
<text class="s" x="358.2" y="46.53" style="font-size:6.1px;fill:#444" text-anchor="end">1.40E+10</text>
<line x1="361.1" y1="30.47" x2="362.8" y2="30.47" stroke="#000" stroke-width="0.6"/>
<text class="s" x="358.2" y="32.47" style="font-size:6.1px;fill:#444" text-anchor="end">1.60E+10</text>
<line x1="361.1" y1="16.40" x2="362.8" y2="16.40" stroke="#000" stroke-width="0.6"/>
<text class="s" x="358.2" y="18.40" style="font-size:6.1px;fill:#444" text-anchor="end">1.80E+10</text>
<line x1="402.5" y1="143.0" x2="402.5" y2="144.5" stroke="#000" stroke-width="0.6"/>
<line x1="441.8" y1="143.0" x2="441.8" y2="144.5" stroke="#000" stroke-width="0.6"/>
<line x1="481.1" y1="143.0" x2="481.1" y2="144.5" stroke="#000" stroke-width="0.6"/>
<text class="s" x="383.2" y="152.5" style="font-size:5px;fill:#444" text-anchor="middle">3</text>
<text class="s" x="422.5" y="152.5" style="font-size:5px;fill:#444" text-anchor="middle">6</text>
<text class="s" x="461.7" y="152.5" style="font-size:5px;fill:#444" text-anchor="middle">6</text>
<text class="s" x="500.5" y="152.5" style="font-size:5px;fill:#444" text-anchor="middle">9</text>
<path d="M383.2,143.0 L422.5,142.3 L461.6,136.0 L500.4,45.9" stroke="#1a1a80" stroke-width="1.0" fill="none"/>
<path d="M383.2,143.0 L422.5,142.6 L461.6,138.1 L500.4,86.0" stroke="#e02020" stroke-width="1.4" fill="none"/>
<path d="M383.2,143.0 L422.5,142.6 L461.6,138.8 L500.4,67.7" stroke="#909090" stroke-width="0.9" fill="none"/>
<path d="M383.2,143.0 L422.5,142.9 L461.6,140.5 L500.4,117.7" stroke="#2a8a70" stroke-width="0.9" fill="none" stroke-dasharray="1.5,1.5"/>
<line x1="500.3" y1="32.9" x2="500.3" y2="102.1" stroke="#333" stroke-width="0.8"/>
<line x1="498.6" y1="32.9" x2="502" y2="32.9" stroke="#333" stroke-width="0.8"/>
<line x1="498.6" y1="59.2" x2="502" y2="59.2" stroke="#333" stroke-width="0.8"/>
<line x1="498.6" y1="81" x2="502" y2="81" stroke="#333" stroke-width="0.8"/>
<line x1="498.6" y1="91.3" x2="502" y2="91.3" stroke="#333" stroke-width="0.8"/>
<line x1="498.6" y1="102.1" x2="502" y2="102.1" stroke="#333" stroke-width="0.8"/>
<line x1="500.3" y1="115.3" x2="500.3" y2="119" stroke="#444" stroke-width="0.8"/>
<line x1="498.8" y1="115.3" x2="501.8" y2="115.3" stroke="#444" stroke-width="0.7"/>
<line x1="498.8" y1="119" x2="501.8" y2="119" stroke="#444" stroke-width="0.7"/>
<circle cx="383.2" cy="143.0" r="1.3" fill="#1a1a80"/>
<rect x="381.9" y="141.7" width="2.6" height="2.6" fill="#e02030"/>
<path d="M383.2,141.6 l1.3,2.4 h-2.6z" fill="#909090"/>
<rect x="382.09999999999997" y="141.9" width="2.2" height="2.2" fill="#2a8a70"/>
<circle cx="422.5" cy="142.3" r="1.3" fill="#1a1a80"/>
<rect x="421.2" y="141.3" width="2.6" height="2.6" fill="#e02030"/>
<path d="M422.5,141.2 l1.3,2.4 h-2.6z" fill="#909090"/>
<rect x="421.4" y="141.8" width="2.2" height="2.2" fill="#2a8a70"/>
<circle cx="461.6" cy="136.0" r="1.3" fill="#1a1a80"/>
<rect x="460.3" y="136.8" width="2.6" height="2.6" fill="#e02030"/>
<path d="M461.6,137.4 l1.3,2.4 h-2.6z" fill="#909090"/>
<rect x="460.5" y="139.4" width="2.2" height="2.2" fill="#2a8a70"/>
<circle cx="500.4" cy="45.9" r="1.3" fill="#1a1a80"/>
<rect x="499.09999999999997" y="84.7" width="2.6" height="2.6" fill="#e02030"/>
<path d="M500.4,66.3 l1.3,2.4 h-2.6z" fill="#909090"/>
<rect x="499.29999999999995" y="116.6" width="2.2" height="2.2" fill="#2a8a70"/>
<g style="font-size:8.7px">
<line x1="383.3" y1="35.9" x2="404.5" y2="35.9" stroke="#1a1a80" stroke-width="1.0"/>
<circle cx="393.7" cy="35.9" r="1.3" fill="#1a1a80"/>
<text x="410.6" y="38.6">Vehicle</text>
<line x1="383.3" y1="51.8" x2="404.5" y2="51.8" stroke="#e02020" stroke-width="1.4"/>
<rect x="392.4" y="50.5" width="2.6" height="2.6" fill="#e02030"/>
<text x="410.6" y="54.8">nilotinib (20mg/kg)</text>
<line x1="383.3" y1="67.8" x2="404.5" y2="67.8" stroke="#909090" stroke-width="0.9"/>
<path d="M393.7,66.39999999999999 l1.3,2.4 h-2.6z" fill="#909090"/>
<text x="410.6" y="70.6">BAG956 (100mg/kg)</text>
<line x1="383.3" y1="83.1" x2="404.5" y2="83.1" stroke="#2a8a70" stroke-width="0.9" stroke-dasharray="1.5,1.5"/>
<rect x="392.6" y="82.0" width="2.2" height="2.2" fill="#2a8a70"/>
<text x="410.6" y="85.7">BAG956+</text>
<text x="410.6" y="96.8">nilotinib</text>
</g>
<text x="349.6" y="159.2" style="font-size:8.7px">Days post-IV injection of 32D.p210-luc+ cells</text>
<text transform="translate(326.2,135.3) rotate(-90)" style="font-size:8.7px">Bioluminescence (p/sec/cm2/sr)</text>
<line x1="358" y1="197" x2="358" y2="296.5" stroke="#000" stroke-width="1"/>
<line x1="358" y1="296.5" x2="519.5" y2="296.5" stroke="#000" stroke-width="1"/>
<line x1="356.3" y1="296.50" x2="358" y2="296.50" stroke="#000" stroke-width="0.6"/>
<text class="s" x="354" y="298.50" style="font-size:6.1px;fill:#444" text-anchor="end">0.00E+00</text>
<line x1="356.3" y1="285.44" x2="358" y2="285.44" stroke="#000" stroke-width="0.6"/>
<text class="s" x="354" y="287.44" style="font-size:6.1px;fill:#444" text-anchor="end">1.00E+09</text>
<line x1="356.3" y1="274.39" x2="358" y2="274.39" stroke="#000" stroke-width="0.6"/>
<text class="s" x="354" y="276.39" style="font-size:6.1px;fill:#444" text-anchor="end">2.00E+09</text>
<line x1="356.3" y1="263.33" x2="358" y2="263.33" stroke="#000" stroke-width="0.6"/>
<text class="s" x="354" y="265.33" style="font-size:6.1px;fill:#444" text-anchor="end">3.00E+09</text>
<line x1="356.3" y1="252.28" x2="358" y2="252.28" stroke="#000" stroke-width="0.6"/>
<text class="s" x="354" y="254.28" style="font-size:6.1px;fill:#444" text-anchor="end">4.00E+09</text>
<line x1="356.3" y1="241.22" x2="358" y2="241.22" stroke="#000" stroke-width="0.6"/>
<text class="s" x="354" y="243.22" style="font-size:6.1px;fill:#444" text-anchor="end">5.00E+09</text>
<line x1="356.3" y1="230.17" x2="358" y2="230.17" stroke="#000" stroke-width="0.6"/>
<text class="s" x="354" y="232.17" style="font-size:6.1px;fill:#444" text-anchor="end">6.00E+09</text>
<line x1="356.3" y1="219.11" x2="358" y2="219.11" stroke="#000" stroke-width="0.6"/>
<text class="s" x="354" y="221.11" style="font-size:6.1px;fill:#444" text-anchor="end">7.00E+09</text>
<line x1="356.3" y1="208.06" x2="358" y2="208.06" stroke="#000" stroke-width="0.6"/>
<text class="s" x="354" y="210.06" style="font-size:6.1px;fill:#444" text-anchor="end">8.00E+09</text>
<line x1="356.3" y1="197.00" x2="358" y2="197.00" stroke="#000" stroke-width="0.6"/>
<text class="s" x="354" y="199.00" style="font-size:6.1px;fill:#444" text-anchor="end">9.00E+09</text>
<line x1="390" y1="296.5" x2="390" y2="298.0" stroke="#000" stroke-width="0.6"/>
<line x1="422.5" y1="296.5" x2="422.5" y2="298.0" stroke="#000" stroke-width="0.6"/>
<line x1="454.6" y1="296.5" x2="454.6" y2="298.0" stroke="#000" stroke-width="0.6"/>
<line x1="487.2" y1="296.5" x2="487.2" y2="298.0" stroke="#000" stroke-width="0.6"/>
<line x1="519.3" y1="296.5" x2="519.3" y2="298.0" stroke="#000" stroke-width="0.6"/>
<text class="s" x="374.3" y="304.8" style="font-size:5.6px;fill:#333" text-anchor="middle">2</text>
<text class="s" x="406.4" y="304.8" style="font-size:5.6px;fill:#333" text-anchor="middle">4</text>
<text class="s" x="438.8" y="304.8" style="font-size:5.6px;fill:#333" text-anchor="middle">6</text>
<text class="s" x="471.3" y="304.8" style="font-size:5.6px;fill:#333" text-anchor="middle">8</text>
<text class="s" x="503.6" y="304.8" style="font-size:5.6px;fill:#333" text-anchor="middle">10</text>
<path d="M374.3,296.5 L406.4,296.5 L438.8,295.4 L471.3,287.7 L503.6,231.8" stroke="#000000" stroke-width="1.4" fill="none"/>
<path d="M374.3,296.5 L406.4,296.5 L438.8,295.4 L471.3,291.5 L503.6,261.1" stroke="#e02020" stroke-width="1.4" fill="none"/>
<path d="M374.3,296.5 L406.4,296.5 L438.8,294.8 L471.3,283.2 L503.6,260.6" stroke="#999999" stroke-width="1.2" fill="none"/>
<path d="M374.3,296.5 L406.4,296.5 L438.8,295.9 L471.3,291.5 L503.6,271.1" stroke="#2a9a60" stroke-width="1.4" fill="none" stroke-dasharray="2,2.5"/>
<line x1="503.6" y1="211.8" x2="503.6" y2="251.3" stroke="#444" stroke-width="0.8"/>
<line x1="501.8" y1="211.8" x2="505.4" y2="211.8" stroke="#444" stroke-width="0.8"/>
<line x1="501.8" y1="251.3" x2="505.4" y2="251.3" stroke="#444" stroke-width="0.8"/>
<line x1="503.6" y1="254" x2="503.6" y2="276" stroke="#666" stroke-width="0.7"/>
<line x1="471.3" y1="279" x2="471.3" y2="288" stroke="#666" stroke-width="0.7"/>
<circle cx="374.3" cy="296.5" r="1.5" fill="#000"/>
<rect x="372.90000000000003" y="295.1" width="2.8" height="2.8" fill="#e02020"/>
<path d="M374.3,294.9 l1.5,2.7 h-3z" fill="#999"/>
<rect x="372.1" y="294.3" width="4.4" height="4.4" fill="#2a9a60"/>
<circle cx="406.4" cy="296.5" r="1.5" fill="#000"/>
<rect x="405.0" y="295.1" width="2.8" height="2.8" fill="#e02020"/>
<path d="M406.4,294.9 l1.5,2.7 h-3z" fill="#999"/>
<rect x="404.2" y="294.3" width="4.4" height="4.4" fill="#2a9a60"/>
<circle cx="438.8" cy="295.4" r="1.5" fill="#000"/>
<rect x="437.40000000000003" y="294.0" width="2.8" height="2.8" fill="#e02020"/>
<path d="M438.8,293.2 l1.5,2.7 h-3z" fill="#999"/>
<rect x="436.6" y="293.7" width="4.4" height="4.4" fill="#2a9a60"/>
<circle cx="471.3" cy="287.7" r="1.5" fill="#000"/>
<rect x="469.90000000000003" y="290.1" width="2.8" height="2.8" fill="#e02020"/>
<path d="M471.3,281.6 l1.5,2.7 h-3z" fill="#999"/>
<rect x="469.1" y="289.3" width="4.4" height="4.4" fill="#2a9a60"/>
<circle cx="503.6" cy="231.8" r="1.5" fill="#000"/>
<rect x="502.20000000000005" y="259.7" width="2.8" height="2.8" fill="#e02020"/>
<path d="M503.6,259.0 l1.5,2.7 h-3z" fill="#999"/>
<rect x="501.40000000000003" y="268.9" width="4.4" height="4.4" fill="#2a9a60"/>
<g style="font-size:8.7px">
<line x1="385" y1="219.4" x2="408.5" y2="219.4" stroke="#000" stroke-width="1.3"/>
<circle cx="397" cy="219.4" r="1.5" fill="#000"/>
<text x="410.8" y="221.9">Vehicle</text>
<line x1="385" y1="231" x2="408.5" y2="231" stroke="#e02020" stroke-width="1.3"/>
<rect x="395.6" y="229.6" width="2.8" height="2.8" fill="#e02020"/>
<text x="410.8" y="233.5">nilotinib (20mg/kg)</text>
<line x1="385" y1="242.5" x2="408.5" y2="242.5" stroke="#999" stroke-width="1.3"/>
<path d="M397,240.9 l1.5,2.7 h-3z" fill="#999"/>
<text x="410.8" y="245.0">BAG956 (75mg/kg)</text>
<line x1="385" y1="254.4" x2="408.5" y2="254.4" stroke="#2a9a60" stroke-width="1.3" stroke-dasharray="2,3"/>
<rect x="394.8" y="252.20000000000002" width="4.4" height="4.4" fill="#2a9a60"/>
<text x="410.8" y="256.9">BAG956+</text>
<text x="410.8" y="266.5">nilotinib</text>
</g>
<text x="350.7" y="313.9" style="font-size:8.7px">Days post-IV injection of 32D.p210-luc+ cells</text>
<text transform="translate(324.3,305.3) rotate(-90)" style="font-size:8.7px">Bioluminescence (p/sec/cm2/sr)</text>
<line x1="37.4" y1="272.9" x2="37.4" y2="361.4" stroke="#000" stroke-width="0.8"/>
<line x1="37.4" y1="361.4" x2="171.8" y2="361.4" stroke="#000" stroke-width="0.8"/>
<line x1="35.9" y1="361.40" x2="37.4" y2="361.40" stroke="#000" stroke-width="0.6"/>
<text class="s" x="33.5" y="363.00" style="font-size:4.5px;fill:#444" text-anchor="end">0</text>
<line x1="35.9" y1="346.65" x2="37.4" y2="346.65" stroke="#000" stroke-width="0.6"/>
<text class="s" x="33.5" y="348.25" style="font-size:4.5px;fill:#444" text-anchor="end">1</text>
<line x1="35.9" y1="331.90" x2="37.4" y2="331.90" stroke="#000" stroke-width="0.6"/>
<text class="s" x="33.5" y="333.50" style="font-size:4.5px;fill:#444" text-anchor="end">2</text>
<line x1="35.9" y1="317.15" x2="37.4" y2="317.15" stroke="#000" stroke-width="0.6"/>
<text class="s" x="33.5" y="318.75" style="font-size:4.5px;fill:#444" text-anchor="end">3</text>
<line x1="35.9" y1="302.40" x2="37.4" y2="302.40" stroke="#000" stroke-width="0.6"/>
<text class="s" x="33.5" y="304.00" style="font-size:4.5px;fill:#444" text-anchor="end">4</text>
<line x1="35.9" y1="287.65" x2="37.4" y2="287.65" stroke="#000" stroke-width="0.6"/>
<text class="s" x="33.5" y="289.25" style="font-size:4.5px;fill:#444" text-anchor="end">5</text>
<line x1="35.9" y1="272.90" x2="37.4" y2="272.90" stroke="#000" stroke-width="0.6"/>
<text class="s" x="33.5" y="274.50" style="font-size:4.5px;fill:#444" text-anchor="end">6</text>
<line x1="71.6" y1="361.4" x2="71.6" y2="362.9" stroke="#000" stroke-width="0.6"/>
<line x1="105.8" y1="361.4" x2="105.8" y2="362.9" stroke="#000" stroke-width="0.6"/>
<line x1="140" y1="361.4" x2="140" y2="362.9" stroke="#000" stroke-width="0.6"/>
<line x1="171.8" y1="361.4" x2="171.8" y2="362.9" stroke="#000" stroke-width="0.6"/>
<rect x="47.9" y="301.0" width="13.8" height="60.4" fill="#9d9cf6" stroke="#2a2a6a" stroke-width="0.7"/>
<line x1="54.8" y1="287.6" x2="54.8" y2="314.2" stroke="#2a2a50" stroke-width="1.1"/>
<line x1="53.0" y1="287.6" x2="56.6" y2="287.6" stroke="#2a2a50" stroke-width="0.9"/>
<line x1="53.0" y1="314.2" x2="56.6" y2="314.2" stroke="#2a2a50" stroke-width="0.9"/>
<rect x="82.1" y="312.9" width="14.5" height="48.5" fill="#9d9cf6" stroke="#2a2a6a" stroke-width="0.7"/>
<line x1="89.3" y1="299.4" x2="89.3" y2="326.0" stroke="#2a2a50" stroke-width="1.1"/>
<line x1="87.5" y1="299.4" x2="91.1" y2="299.4" stroke="#2a2a50" stroke-width="0.9"/>
<line x1="87.5" y1="326.0" x2="91.1" y2="326.0" stroke="#2a2a50" stroke-width="0.9"/>
<rect x="116.3" y="303.6" width="14.5" height="57.8" fill="#9d9cf6" stroke="#2a2a6a" stroke-width="0.7"/>
<line x1="123.6" y1="301.1" x2="123.6" y2="306.7" stroke="#2a2a50" stroke-width="1.1"/>
<line x1="121.8" y1="301.1" x2="125.4" y2="301.1" stroke="#2a2a50" stroke-width="0.9"/>
<line x1="121.8" y1="306.7" x2="125.4" y2="306.7" stroke="#2a2a50" stroke-width="0.9"/>
<rect x="150.3" y="318.6" width="14.1" height="42.8" fill="#9d9cf6" stroke="#2a2a6a" stroke-width="0.7"/>
<line x1="157.4" y1="314.2" x2="157.4" y2="323.0" stroke="#2a2a50" stroke-width="1.1"/>
<line x1="155.6" y1="314.2" x2="159.2" y2="314.2" stroke="#2a2a50" stroke-width="0.9"/>
<line x1="155.6" y1="323.0" x2="159.2" y2="323.0" stroke="#2a2a50" stroke-width="0.9"/>
<g style="font-size:7.1px">
<text x="40.4" y="369.4">Vehicle</text>
<text x="75.1" y="369.4">nilotinib,</text><text x="75.1" y="378.2">20mg/kg</text>
<text x="110.1" y="369.4">BAG956,</text><text x="110.1" y="378.2">75mg/kg</text>
<text x="144.7" y="369.4">BAG956+</text><text x="146" y="378.2">nilotinib</text>
</g>
<rect x="182" y="314.8" width="2.9" height="2.9" fill="#9d9cf6" stroke="#2a2a6a" stroke-width="0.5"/>
<text x="188.3" y="315.8" style="font-size:8.7px">Percent</text>
<text x="188.3" y="324.4" style="font-size:8.7px">spleen weight</text>
<text transform="translate(25.5,324.6) rotate(-90)" style="font-size:10.3px">Percent</text>
</svg></body></html>
